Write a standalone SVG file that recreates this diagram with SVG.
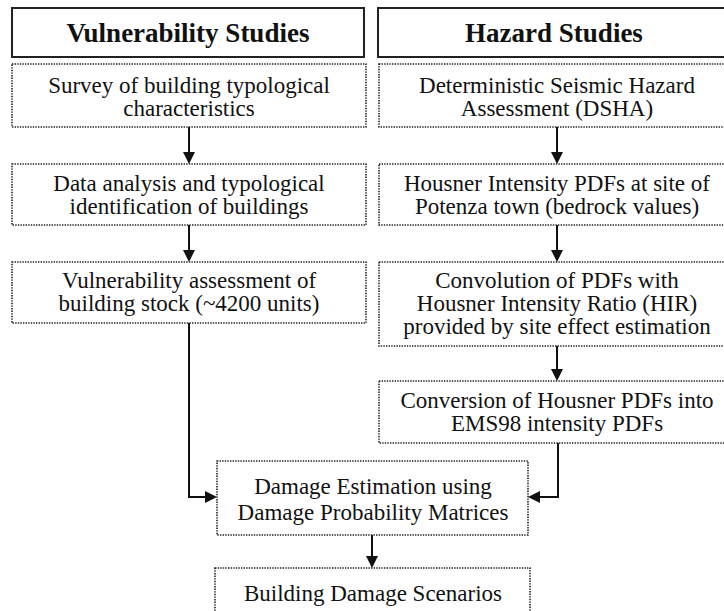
<svg xmlns="http://www.w3.org/2000/svg" width="724" height="611" viewBox="0 0 724 611">
<style>
.hdr{fill:#fff;stroke:#222;stroke-width:2}
.box{fill:#fff;stroke:#222;stroke-width:1.6;stroke-dasharray:1.4 1.2}
.ht{font-family:'Liberation Serif','DejaVu Serif',serif;font-weight:bold;font-size:27px;fill:#111;text-anchor:middle}
.t{font-family:'Liberation Serif','DejaVu Serif',serif;font-size:23px;fill:#111;text-anchor:middle}
.c{fill:none;stroke:#111;stroke-width:2}
</style>
<defs>
<marker id="ah" markerUnits="userSpaceOnUse" viewBox="0 0 12 12" markerWidth="12" markerHeight="12" refX="8" refY="6" orient="auto">
<path d="M0,0 L12,6 L0,12 z" fill="#111"/>
</marker>
</defs>
<rect width="724" height="611" fill="#fff"/>
<g id="vuln-header"><rect class="hdr" x="12" y="8" width="352" height="49"/><text class="ht" x="188" y="42" font-family="Liberation Serif, serif">Vulnerability Studies</text></g>
<g id="hazard-header"><rect class="hdr" x="378" y="8" width="360" height="49"/><text class="ht" x="554" y="42">Hazard Studies</text></g>
<g id="survey"><rect class="box" x="12" y="64" width="354" height="63"/><text class="t" x="189" y="93">Survey of building typological</text><text class="t" x="189" y="116">characteristics</text></g>
<g id="data-analysis"><rect class="box" x="12" y="164" width="354" height="61"/><text class="t" x="189" y="191">Data analysis and typological</text><text class="t" x="189" y="214">identification of buildings</text></g>
<g id="vuln-assessment"><rect class="box" x="12" y="262" width="354" height="61"/><text class="t" x="189" y="288">Vulnerability assessment of</text><text class="t" x="189" y="311">building stock (~4200 units)</text></g>
<g id="dsha"><rect class="box" x="379" y="64" width="360" height="63"/><text class="t" x="557" y="93">Deterministic Seismic Hazard</text><text class="t" x="557" y="116">Assessment (DSHA)</text></g>
<g id="housner-pdfs"><rect class="box" x="379" y="164" width="360" height="61"/><text class="t" x="557" y="191">Housner Intensity PDFs at site of</text><text class="t" x="557" y="214">Potenza town (bedrock values)</text></g>
<g id="convolution"><rect class="box" x="379" y="262" width="360" height="84"/><text class="t" x="557" y="288">Convolution of PDFs with</text><text class="t" x="557" y="311">Housner Intensity Ratio (HIR)</text><text class="t" x="557" y="334">provided by site effect estimation</text></g>
<g id="conversion"><rect class="box" x="379" y="381" width="360" height="62"/><text class="t" x="557" y="408">Conversion of Housner PDFs into</text><text class="t" x="557" y="431">EMS98 intensity PDFs</text></g>
<g id="damage-estimation"><rect class="box" x="217" y="461" width="311" height="74"/><text class="t" x="373" y="494">Damage Estimation using</text><text class="t" x="373" y="520">Damage Probability Matrices</text></g>
<g id="scenarios"><rect class="box" x="215" y="568" width="315" height="60"/><text class="t" x="373" y="601">Building Damage Scenarios</text></g>
<g id="connectors">
<path class="c" d="M189,127 V160" marker-end="url(#ah)"/>
<path class="c" d="M189,225 V258" marker-end="url(#ah)"/>
<path class="c" d="M557,127 V160" marker-end="url(#ah)"/>
<path class="c" d="M557,225 V258" marker-end="url(#ah)"/>
<path class="c" d="M557,346 V377" marker-end="url(#ah)"/>
<path class="c" d="M189,323 V497 H213" marker-end="url(#ah)"/>
<path class="c" d="M558,443 V497 H532" marker-end="url(#ah)"/>
<path class="c" d="M372,535 V564" marker-end="url(#ah)"/>
</g>
</svg>
